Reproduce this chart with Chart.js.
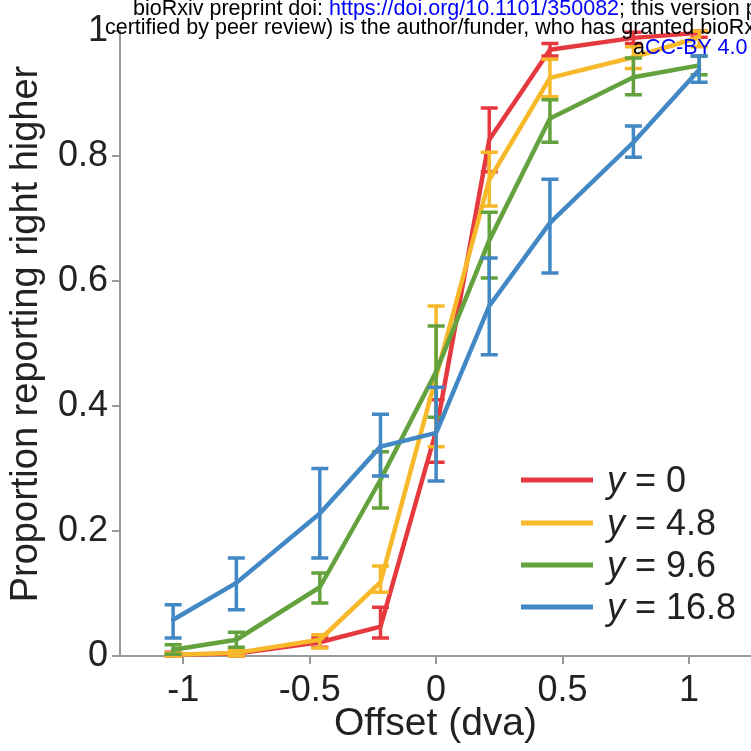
<!DOCTYPE html>
<html>
<head>
<meta charset="utf-8">
<script src="https://cdn.jsdelivr.net/npm/chart.js@4/dist/chart.umd.min.js"></script>
<style>
  html, body { margin: 0; padding: 0; background: #fff; overflow: hidden; }
  #wrap { position: relative; width: 751px; height: 751px; overflow: hidden; }
  canvas { position: absolute; left: 0; top: 0; }
  .wm { position: absolute; white-space: nowrap; font-family: "Liberation Sans", Arial, sans-serif;
        font-size: 21.5px; line-height: 21.5px; color: #000; z-index: 2; }
  .wm span.b { color: #0000ff; }
</style>
</head>
<body>
<div id="wrap">
  <canvas id="c" width="751" height="751"></canvas>
  <div class="wm" style="left:133px; top:-2px;">bioRxiv preprint doi: <span class="b">https://doi.org/10.1101/350082</span>; this version posted</div>
  <div class="wm" style="left:105px; top:17px;">certified by peer review) is the author/funder, who has granted bioRxiv</div>
  <div class="wm" style="left:633px; top:37px;">a<span class="b">CC-BY 4.0</span></div>
</div>
<script>
// ---- data ----
const offsets = [-1.04, -0.79, -0.46, -0.22, 0, 0.21, 0.45, 0.78, 1.04];
const seriesNames = ["0", "4.8", "9.6", "16.8"];

const redMean  = [0.002, 0.004, 0.022, 0.047, 0.36, 0.826, 0.97, 0.989, 0.997];
const redLow   = [0.000, 0.000, 0.014, 0.029, 0.31, 0.775, 0.96, 0.980, 0.990];
const redHigh  = [0.006, 0.008, 0.030, 0.078, 0.41, 0.877, 0.98, 0.998, 1.000];

const yellowMean = [0.002, 0.005, 0.026, 0.118, 0.447, 0.762, 0.925, 0.958, 0.990];
const yellowLow  = [0.000, 0.000, 0.013, 0.102, 0.335, 0.720, 0.895, 0.940, 0.975];
const yellowHigh = [0.005, 0.010, 0.034, 0.144, 0.560, 0.806, 0.955, 0.975, 1.000];

const greenMean = [0.010, 0.026, 0.110, 0.282, 0.455, 0.665, 0.860, 0.926, 0.945];
const greenLow  = [0.003, 0.014, 0.085, 0.237, 0.382, 0.605, 0.822, 0.898, 0.930];
const greenHigh = [0.018, 0.038, 0.133, 0.327, 0.528, 0.710, 0.890, 0.957, 0.960];

const blueMean = [0.058, 0.117, 0.228, 0.335, 0.357, 0.560, 0.693, 0.822, 0.938];
const blueLow  = [0.029, 0.074, 0.157, 0.288, 0.280, 0.482, 0.613, 0.798, 0.918];
const blueHigh = [0.082, 0.157, 0.300, 0.387, 0.430, 0.637, 0.763, 0.848, 0.960];

const xTicks = [-1, -0.5, 0, 0.5, 1];
const xTickLabels = ["-1", "-0.5", "0", "0.5", "1"];
const yTicks = [0, 0.2, 0.4, 0.6, 0.8, 1];
const yTickLabels = ["0", "0.2", "0.4", "0.6", "0.8", "1"];

const colors = ["#e6393f", "#f7b82a", "#63a23c", "#4288c5"];
const FONT = '"Liberation Sans", Arial, Helvetica, sans-serif';

function mk(i, mean, low, high) {
  return {
    label: "y = " + seriesNames[i],
    data: offsets.map((x, k) => ({x: x, y: mean[k]})),
    errLow: low, errHigh: high,
    borderColor: colors[i], backgroundColor: colors[i],
    borderWidth: 4.5, pointRadius: 0, pointHoverRadius: 0,
    borderJoinStyle: 'round', borderCapStyle: 'round',
    tension: 0, order: 3 - i, clip: false
  };
}

const errorBars = {
  id: 'errorBars',
  afterDatasetDraw(chart, args) {
    const ds = chart.data.datasets[args.index];
    const xs = chart.scales.x, ys = chart.scales.y;
    const ctx = chart.ctx;
    ctx.save();
    ctx.strokeStyle = ds.borderColor;
    ctx.lineWidth = 3.5;
    ctx.lineCap = 'butt';
    const cap = 8.5;
    ds.data.forEach((p, k) => {
      const px = xs.getPixelForValue(p.x);
      const yl = ys.getPixelForValue(ds.errLow[k]);
      const yh = ys.getPixelForValue(ds.errHigh[k]);
      ctx.beginPath();
      ctx.moveTo(px, yl); ctx.lineTo(px, yh);
      ctx.moveTo(px - cap, yl); ctx.lineTo(px + cap, yl);
      ctx.moveTo(px - cap, yh); ctx.lineTo(px + cap, yh);
      ctx.stroke();
    });
    ctx.restore();
  }
};

const legendPlugin = {
  id: 'customLegend',
  afterDraw(chart) {
    const ctx = chart.ctx;
    const ys = [480, 523, 565, 607];
    ctx.save();
    chart.data.datasets.forEach((ds, i) => {
      const y = ys[i];
      ctx.strokeStyle = ds.borderColor;
      ctx.lineWidth = 5;
      ctx.lineCap = 'butt';
      ctx.beginPath(); ctx.moveTo(521, y); ctx.lineTo(593, y); ctx.stroke();
      ctx.fillStyle = '#222';
      ctx.textBaseline = 'middle';
      ctx.textAlign = 'left';
      ctx.font = 'italic 36px ' + FONT;
      ctx.fillText('y', 607, y + 2);
      const w = ctx.measureText('y').width;
      ctx.font = '36px ' + FONT;
      ctx.fillText(' = ' + seriesNames[i], 607 + w, y + 2);
    });
    ctx.restore();
  }
};

new Chart(document.getElementById('c'), {
  type: 'line',
  data: {
    datasets: [
      mk(0, redMean, redLow, redHigh),
      mk(1, yellowMean, yellowLow, yellowHigh),
      mk(2, greenMean, greenLow, greenHigh),
      mk(3, blueMean, blueLow, blueHigh)
    ]
  },
  options: {
    responsive: false,
    animation: false,
    events: [],
    layout: { padding: { top: 31, right: 0, bottom: 0, left: 0 } },
    plugins: { legend: { display: false }, tooltip: { enabled: false } },
    scales: {
      x: {
        type: 'linear', min: -1.25, max: 1.245,
        afterBuildTicks(s) { s.ticks = xTicks.map(v => ({value: v})); },
        afterFit(s) { s.height = 95; },
        ticks: {
          callback: (v) => xTickLabels[xTicks.indexOf(v)],
          font: { family: FONT, size: 36 }, color: '#222', padding: 5, maxRotation: 0
        },
        grid: { drawOnChartArea: false, drawTicks: true, tickLength: 8, color: '#999', lineWidth: 2 },
        border: { display: true, color: '#999', width: 2 },
        title: { display: true, text: 'Offset (dva)', font: { family: FONT, size: 39 }, color: '#222', padding: { top: 0, bottom: 3 } }
      },
      y: {
        type: 'linear', min: 0, max: 1,
        afterBuildTicks(s) { s.ticks = yTicks.map(v => ({value: v})); },
        afterFit(s) { s.width = 120; },
        ticks: {
          callback: (v) => yTickLabels[yTicks.indexOf(v)],
          font: { family: FONT, size: 36 }, color: '#222', padding: 4
        },
        grid: { drawOnChartArea: false, drawTicks: true, tickLength: 8, color: '#999', lineWidth: 2 },
        border: { display: true, color: '#999', width: 2 },
        title: { display: true, text: '\u2002Proportion reporting right higher', font: { family: FONT, size: 38 }, color: '#222', padding: { top: 4, bottom: 0 } }
      }
    }
  },
  plugins: [errorBars, legendPlugin]
});
</script>
</body>
</html>
